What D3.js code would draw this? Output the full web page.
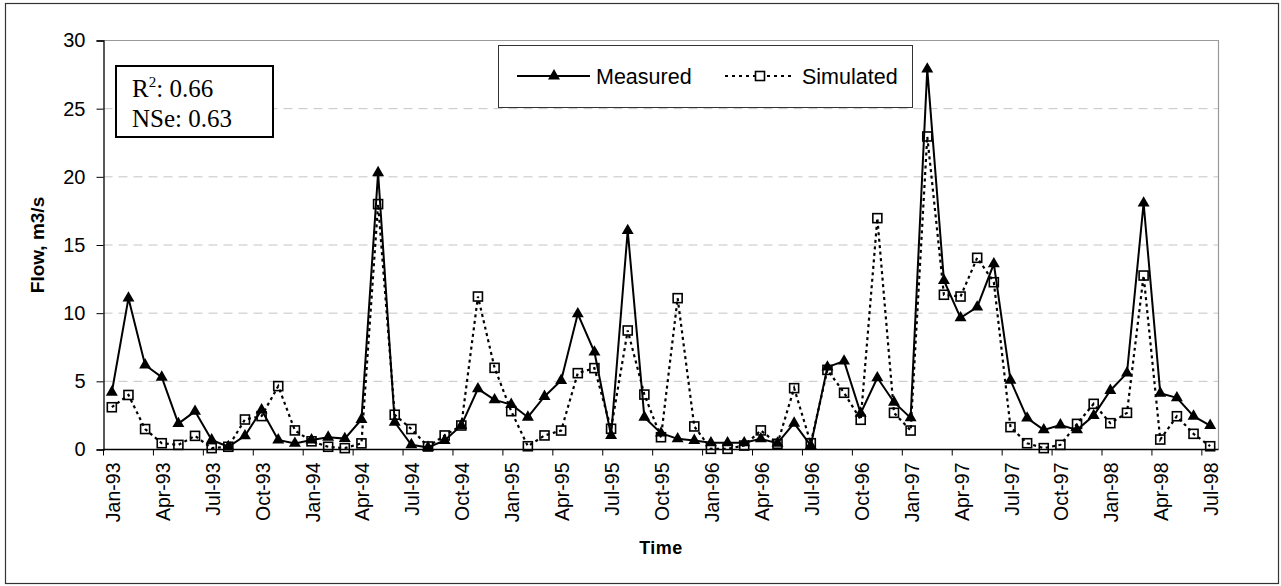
<!DOCTYPE html>
<html>
<head>
<meta charset="utf-8">
<script src="https://cdn.jsdelivr.net/npm/d3@7"></script>
<style>
  body { margin: 0; background: #fff; }
  svg { display: block; font-family: "Liberation Sans", Arial, sans-serif; }
</style>
</head>
<body>
<div id="chart"></div>
<script>
// monthly flows, Jan-93 .. Jul-98
const months = d3.timeMonth.range(new Date(1993, 0, 1), new Date(1998, 7, 1))

const measured = [
  4.2, 11.1, 6.2, 5.3, 1.9, 2.8, 0.7, 0.2, 1.0, 2.9, 0.7, 0.45,
  0.7, 0.9, 0.8, 2.2, 20.3, 2.0, 0.35, 0.15, 0.66, 1.76, 4.45, 3.64,
  3.3, 2.37, 3.89, 5.06, 9.95, 7.14, 1.03, 16.06, 2.37, 1.2, 0.78, 0.66,
  0.49, 0.49, 0.49, 0.78, 0.46, 1.93, 0.29, 6.04, 6.48, 2.66, 5.26, 3.47,
  2.32, 27.9, 12.4, 9.66, 10.44, 13.62, 5.08, 2.3, 1.44, 1.8, 1.44, 2.49,
  4.33, 5.6, 18.07, 4.13, 3.79, 2.44, 1.76,
]

const simulated = [
  3.1, 4.0, 1.5, 0.46, 0.34, 1.0, 0.1, 0.2, 2.2, 2.45, 4.65, 1.4,
  0.6, 0.2, 0.1, 0.45, 18.0, 2.55, 1.5, 0.22, 1.03, 1.76, 11.22, 5.99,
  2.81, 0.24, 1.03, 1.39, 5.6, 5.97, 1.52, 8.73, 4.03, 0.9, 11.1, 1.69,
  0.05, 0.05, 0.29, 1.4, 0.42, 4.5, 0.46, 5.84, 4.16, 2.18, 16.97, 2.69,
  1.39, 22.96, 11.35, 11.22, 14.06, 12.27, 1.64, 0.46, 0.1, 0.34, 1.88, 3.35,
  1.93, 2.69, 12.76, 0.73, 2.44, 1.15, 0.24,
]

const yTicks = [0, 5, 10, 15, 20, 25, 30]
const fmt = d3.timeFormat('%b-%y')
const serif = '"Liberation Serif", "Times New Roman", serif'

const width = 1281
const height = 586
const plot = { left: 103.5, right: 1218.5, top: 40.5, bottom: 449.5 }

const svg = d3.select('#chart')
  .append('svg')
  .attr('width', width)
  .attr('height', height)

// outer frame
svg.append('rect')
  .attr('x', 5.5).attr('y', 3.5)
  .attr('width', 1273).attr('height', 580)
  .attr('fill', 'none')
  .attr('stroke', '#333')
  .attr('stroke-width', 1.2)

const x = d3.scaleBand()
  .domain(months)
  .range([plot.left, plot.right])

const y = d3.scaleLinear()
  .domain([0, 30])
  .range([plot.bottom, plot.top])

const cx = (i) => x(months[i]) + x.bandwidth() / 2

// grid
svg.append('g')
  .selectAll('line')
  .data(yTicks.filter((d) => d > 0 && d < 30))
  .enter()
  .append('line')
  .attr('x1', plot.left).attr('x2', plot.right)
  .attr('y1', (d) => y(d)).attr('y2', (d) => y(d))
  .attr('stroke', '#c4c4c4')
  .attr('stroke-width', 1)
  .attr('stroke-dasharray', '9,6')

// plot area border (top and right)
svg.append('path')
  .attr('d', `M${plot.left},${plot.top}H${plot.right}V${plot.bottom}`)
  .attr('fill', 'none')
  .attr('stroke', '#999')
  .attr('stroke-width', 1.2)

// y axis
const yAxis = svg.append('g')
  .attr('transform', `translate(${plot.left},0)`)
  .call(d3.axisLeft(y).tickValues(yTicks).tickSize(7).tickPadding(11))

yAxis.attr('font-family', null).attr('font-size', 20)
yAxis.select('.domain').attr('stroke', '#000').attr('stroke-width', 1.3)
yAxis.selectAll('.tick line').attr('stroke', '#000')
yAxis.selectAll('.tick text').attr('fill', '#000')

// x axis: ticks at band edges every 3 months, labels at band centres
const tickMonths = months.filter((d, i) => i % 3 === 0)

const xAxis = svg.append('g')
xAxis.append('line')
  .attr('x1', plot.left).attr('x2', plot.right)
  .attr('y1', plot.bottom).attr('y2', plot.bottom)
  .attr('stroke', '#000')
  .attr('stroke-width', 1.3)

xAxis.selectAll('.xt')
  .data(tickMonths)
  .enter()
  .append('line')
  .attr('class', 'xt')
  .attr('x1', (d) => x(d)).attr('x2', (d) => x(d))
  .attr('y1', plot.bottom).attr('y2', plot.bottom + 6)
  .attr('stroke', '#000')

xAxis.selectAll('.xl')
  .data(tickMonths)
  .enter()
  .append('text')
  .attr('class', 'xl')
  .attr('transform', (d) => `translate(${x(d) + x.bandwidth() / 2 + 1},${plot.bottom + 13}) rotate(-90)`)
  .attr('text-anchor', 'end')
  .attr('dy', '0.36em')
  .attr('font-size', 19.5)
  .text(fmt)

// axis titles
svg.append('text')
  .attr('x', (plot.left + plot.right) / 2)
  .attr('y', 554)
  .attr('text-anchor', 'middle')
  .attr('font-size', 18)
  .attr('font-weight', 'bold')
  .attr('letter-spacing', 0.5)
  .text('Time')

svg.append('text')
  .attr('transform', `translate(44,${(plot.top + plot.bottom) / 2}) rotate(-90)`)
  .attr('text-anchor', 'middle')
  .attr('font-size', 19)
  .attr('font-weight', 'bold')
  .text('Flow, m3/s')

// series
const lineOf = (vals) => d3.line()
  .x((d, i) => cx(i))
  .y((d) => y(d))(vals)

svg.append('path')
  .attr('d', lineOf(measured))
  .attr('fill', 'none')
  .attr('stroke', '#000')
  .attr('stroke-width', 2)

const tri = d3.symbol(d3.symbolTriangle, 62)

svg.append('g')
  .selectAll('path')
  .data(measured)
  .enter()
  .append('path')
  .attr('d', tri)
  .attr('transform', (d, i) => `translate(${cx(i)},${y(d)})`)
  .attr('fill', '#000')

svg.append('path')
  .attr('d', lineOf(simulated))
  .attr('fill', 'none')
  .attr('stroke', '#000')
  .attr('stroke-width', 2.2)
  .attr('stroke-dasharray', '3,3.5')

svg.append('g')
  .selectAll('rect')
  .data(simulated)
  .enter()
  .append('rect')
  .attr('x', (d, i) => cx(i) - 4.5)
  .attr('y', (d) => y(d) - 4.5)
  .attr('width', 9)
  .attr('height', 9)
  .attr('fill', 'none')
  .attr('stroke', '#000')
  .attr('stroke-width', 1.6)

// legend
const legend = svg.append('g')
legend.append('rect')
  .attr('x', 498.5).attr('y', 45.5)
  .attr('width', 414).attr('height', 62)
  .attr('fill', '#fff')
  .attr('stroke', '#333')
  .attr('stroke-width', 1)

legend.append('line')
  .attr('x1', 517).attr('x2', 590).attr('y1', 76).attr('y2', 76)
  .attr('stroke', '#000').attr('stroke-width', 2)
legend.append('path')
  .attr('d', tri)
  .attr('transform', 'translate(554,76)')
legend.append('text')
  .attr('x', 596).attr('y', 83.5)
  .attr('font-size', 21.5)
  .text('Measured')

legend.append('line')
  .attr('x1', 725).attr('x2', 795).attr('y1', 76).attr('y2', 76)
  .attr('stroke', '#000').attr('stroke-width', 2)
  .attr('stroke-dasharray', '3,4')
legend.append('rect')
  .attr('x', 755.5).attr('y', 71.5)
  .attr('width', 9).attr('height', 9)
  .attr('fill', '#fff')
  .attr('stroke', '#000')
  .attr('stroke-width', 1.6)
legend.append('text')
  .attr('x', 802).attr('y', 83.5)
  .attr('font-size', 21.5)
  .text('Simulated')

// fit statistics box
const stats = svg.append('g')
stats.append('rect')
  .attr('x', 116).attr('y', 66)
  .attr('width', 157).attr('height', 71)
  .attr('fill', '#fff')
  .attr('stroke', '#000')
  .attr('stroke-width', 2)

const r2 = stats.append('text')
  .attr('x', 132).attr('y', 97)
  .style('font-family', serif)
  .attr('font-size', 25)
r2.append('tspan').text('R')
r2.append('tspan').attr('font-size', 15).attr('dy', -10).text('2')
r2.append('tspan').attr('dy', 10).text(': 0.66')

stats.append('text')
  .attr('x', 132).attr('y', 127)
  .style('font-family', serif)
  .attr('font-size', 25)
  .text('NSe: 0.63')
</script>
</body>
</html>
